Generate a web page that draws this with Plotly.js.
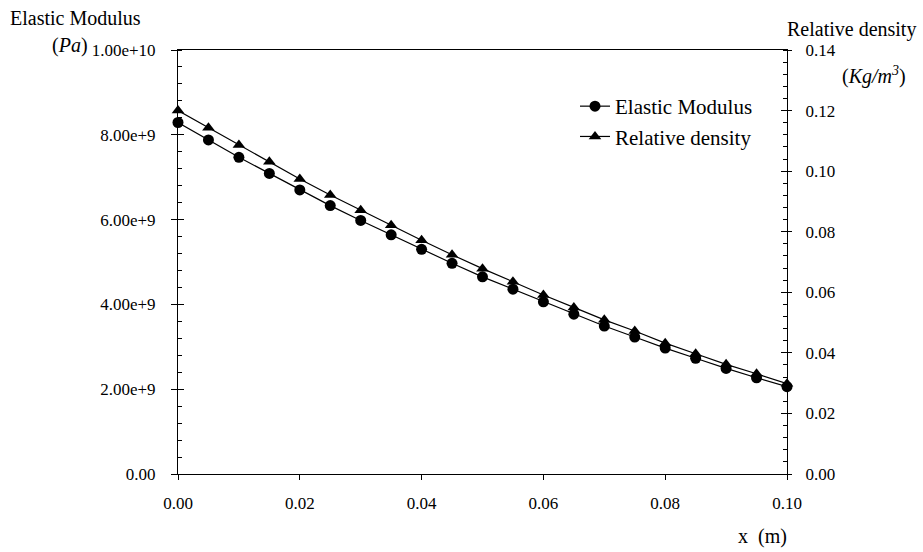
<!DOCTYPE html>
<html>
<head>
<meta charset="utf-8">
<script src="https://cdn.plot.ly/plotly-3.0.1.min.js"></script>
<style>
  html, body { margin: 0; padding: 0; background: #fff; }
  #chart { width: 923px; height: 552px; }
</style>
</head>
<body>
<div id="chart"></div>
<script>
// Position along the bar (m)
const xPos = [0.000, 0.005, 0.010, 0.015, 0.020, 0.025, 0.030, 0.035, 0.040, 0.045, 0.050,
              0.055, 0.060, 0.065, 0.070, 0.075, 0.080, 0.085, 0.090, 0.095, 0.100];

// Elastic modulus (Pa)
const elasticModulus = [8.29e9, 7.88e9, 7.47e9, 7.09e9, 6.70e9, 6.33e9, 5.98e9, 5.64e9, 5.30e9, 4.97e9, 4.65e9,
                        4.36e9, 4.06e9, 3.77e9, 3.49e9, 3.23e9, 2.97e9, 2.73e9, 2.49e9, 2.27e9, 2.06e9];

// Relative density (Kg/m^3)
const relativeDensity = [0.1200, 0.1143, 0.1086, 0.1031, 0.0974, 0.0921, 0.0871, 0.0821, 0.0772, 0.0724, 0.0678,
                         0.0635, 0.0591, 0.0550, 0.0509, 0.0472, 0.0432, 0.0397, 0.0362, 0.0331, 0.0298];

// Left axis tick labels
const modulusTickVals = [0, 2e9, 4e9, 6e9, 8e9, 1e10];
const modulusTickText = ['0.00', '2.00e+9', '4.00e+9', '6.00e+9', '8.00e+9', '1.00e+10'];

const FONT = 'Liberation Serif';
const W = 923, H = 552;
const M = { l: 178, r: 136, t: 50, b: 78 };
const PW = W - M.l - M.r, PH = H - M.t - M.b;
// pixel -> paper helpers for free text placement
const px = x => (x - M.l) / PW;
const py = y => (H - M.b - y) / PH;

const traces = [
  {
    x: xPos, y: elasticModulus, name: 'Elastic Modulus',
    type: 'scatter', mode: 'lines+markers', yaxis: 'y', cliponaxis: false,
    line: { color: '#000', width: 1.2 },
    marker: { symbol: 'circle', size: 11, color: '#000' }
  },
  {
    x: xPos, y: relativeDensity, name: 'Relative density',
    type: 'scatter', mode: 'lines+markers', yaxis: 'y2', cliponaxis: false,
    line: { color: '#000', width: 1.2 },
    marker: { symbol: 'triangle-up', size: 11, color: '#000' }
  }
];

const tickFont = { family: FONT, size: 17, color: '#000' };
const textFont = { family: FONT, size: 20, color: '#000' };

const layout = {
  width: W, height: H,
  margin: M,
  paper_bgcolor: '#fff', plot_bgcolor: '#fff',
  font: { family: FONT, color: '#000' },
  showlegend: true,
  legend: {
    x: px(575), y: py(86), xanchor: 'left', yanchor: 'top',
    bgcolor: 'rgba(0,0,0,0)', borderwidth: 0,
    font: { family: FONT, size: 21, color: '#000' },
    tracegroupgap: 0
  },
  xaxis: {
    range: [0, 0.1], dtick: 0.02, tick0: 0, tickformat: '.2f',
    showgrid: false, zeroline: false,
    showline: true, linecolor: '#000', linewidth: 1, mirror: true,
    ticks: 'outside', ticklen: 5, tickcolor: '#000', tickwidth: 1,
    tickfont: tickFont, ticklabelstandoff: 9
  },
  yaxis: {
    range: [0, 1e10], tickvals: modulusTickVals, ticktext: modulusTickText,
    showgrid: false, zeroline: false,
    showline: true, linecolor: '#000', linewidth: 1,
    ticks: 'outside', ticklen: 6, tickcolor: '#000', tickwidth: 1,
    minor: { dtick: 4e8, tick0: 0, ticks: 'inside', ticklen: 4, tickcolor: '#000', tickwidth: 1, showgrid: false },
    tickfont: tickFont, ticklabelstandoff: 12
  },
  // inner half of the crossing major ticks on the left axis
  yaxis3: {
    overlaying: 'y', side: 'left', range: [0, 1e10], tickvals: modulusTickVals,
    showticklabels: false, showgrid: false, zeroline: false, showline: false,
    ticks: 'inside', ticklen: 6, tickcolor: '#000', tickwidth: 1
  },
  yaxis2: {
    overlaying: 'y', side: 'right', range: [0, 0.14], dtick: 0.02, tick0: 0, tickformat: '.2f',
    showgrid: false, zeroline: false,
    showline: true, linecolor: '#000', linewidth: 1,
    ticks: 'outside', ticklen: 4, tickcolor: '#000', tickwidth: 1,
    minor: { dtick: 0.004, tick0: 0, ticks: 'inside', ticklen: 4, tickcolor: '#000', tickwidth: 1, showgrid: false },
    tickfont: tickFont, ticklabelstandoff: 10
  },
  // inner half of the crossing major ticks on the right axis
  yaxis4: {
    overlaying: 'y', side: 'right', range: [0, 0.14], dtick: 0.02, tick0: 0,
    showticklabels: false, showgrid: false, zeroline: false, showline: false,
    ticks: 'inside', ticklen: 6, tickcolor: '#000', tickwidth: 1
  },
  annotations: [
    { text: 'Elastic Modulus', xref: 'paper', yref: 'paper', x: px(8), y: py(18),
      xanchor: 'left', yanchor: 'middle', showarrow: false, font: textFont },
    { text: '(<i>Pa</i>)', xref: 'paper', yref: 'paper', x: px(70), y: py(46),
      xanchor: 'center', yanchor: 'middle', showarrow: false, font: textFont },
    { text: 'Relative density', xref: 'paper', yref: 'paper', x: px(918), y: py(30),
      xanchor: 'right', yanchor: 'middle', showarrow: false, font: textFont },
    { text: '(<i>Kg/m<sup>3</sup></i>)', xref: 'paper', yref: 'paper', x: px(874), y: py(75),
      xanchor: 'center', yanchor: 'middle', showarrow: false, font: textFont },
    { text: 'x  (m)', xref: 'paper', yref: 'paper', x: px(762), y: py(536),
      xanchor: 'center', yanchor: 'middle', showarrow: false, font: textFont }
  ]
};

// empty traces so the overlay tick axes are drawn
traces.push({ x: [null], y: [null], yaxis: 'y3', showlegend: false, hoverinfo: 'skip', type: 'scatter' });
traces.push({ x: [null], y: [null], yaxis: 'y4', showlegend: false, hoverinfo: 'skip', type: 'scatter' });

Plotly.newPlot('chart', traces, layout, { staticPlot: true, displayModeBar: false });
</script>
</body>
</html>
